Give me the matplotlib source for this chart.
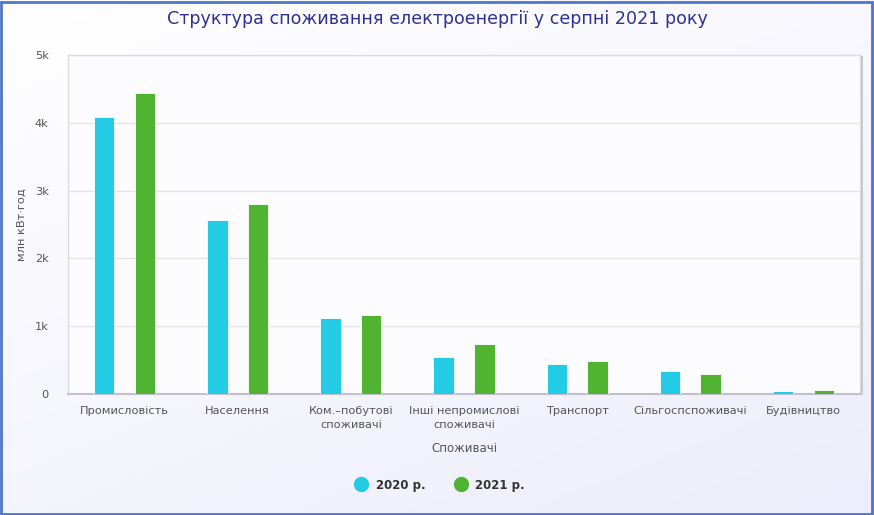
import numpy as np
import matplotlib.pyplot as plt
from matplotlib.ticker import FuncFormatter
from matplotlib.lines import Line2D
from matplotlib.patches import Rectangle

plt.rcParams['font.family'] = ['DejaVu Sans']

# Data (млн кВт·год)
categories = ['Промисловість', 'Населення', 'Ком.–побутові\nспоживачі',
              'Інші непромислові\nспоживачі', 'Транспорт', 'Сільгоспспоживачі',
              'Будівництво']
values_2020 = [4083, 2572, 1118, 550, 443, 334, 44]
values_2021 = [4433, 2798, 1163, 735, 490, 290, 64]
series_names = ['2020 р.', '2021 р.']
colors = ['#24CBE5', '#50B432']

W, H = 874, 515
fig = plt.figure(figsize=(W / 100, H / 100), dpi=100)

# background gradient
bg = fig.add_axes([0, 0, 1, 1], zorder=-10)
yy, xx = np.mgrid[0:1:100j, 0:1:100j]
t = np.clip(0.6 * yy + 0.4 * xx, 0, 1)
top = np.array([1.0, 1.0, 1.0])
bot = np.array([0.93, 0.93, 0.985])
img = top[None, None, :] * (1 - t[..., None]) + bot[None, None, :] * t[..., None]
bg.imshow(img[::-1], extent=[0, 1, 0, 1], aspect='auto', origin='lower')
bg.add_patch(Rectangle((0.001, 0.002), 0.997, 0.995, fill=False,
                       edgecolor='#4f76c8', lw=2, transform=bg.transAxes))
bg.set_axis_off()

left, right, bottom, top_ = 68, 860, 394, 55
ax = fig.add_axes([left / W, 1 - bottom / H, (right - left) / W, (bottom - top_) / H])
ax.set_facecolor('#fcfcff')

# shadow on the right of the plot area
sh = Rectangle((left / W + 0.003, 1 - bottom / H - 0.002), (right - left) / W, (bottom - top_) / H,
               transform=fig.transFigure, facecolor='#c8c8cc', edgecolor='none', zorder=-5)
fig.patches.append(sh)

x = np.arange(len(categories))
bw = 0.18
ax.bar(x - 0.18, values_2020, width=bw, color=colors[0], edgecolor='#ffffff',
       linewidth=0.6, zorder=3)
ax.bar(x + 0.18, values_2021, width=bw, color=colors[1], edgecolor='#ffffff',
       linewidth=0.6, zorder=3)

ax.set_xlim(-0.5, len(categories) - 0.5)
ax.set_ylim(0, 5000)
ax.set_yticks(range(0, 5001, 1000))
ax.yaxis.set_major_formatter(FuncFormatter(lambda v, p: '0' if v == 0 else f'{int(v / 1000)}k'))
ax.grid(axis='y', color='#e4e4e8', lw=1, zorder=0)
ax.set_xticks(x)
ax.set_xticklabels(categories, fontsize=8.2, color='#555555', linespacing=1.5)
ax.tick_params(axis='x', length=0, pad=9)
ax.tick_params(axis='y', length=0, pad=14, labelsize=8.2, labelcolor='#555555')
for s in ['top', 'right', 'left']:
    ax.spines[s].set_color('#dcdcdc')
    ax.spines[s].set_linewidth(1)
ax.spines['bottom'].set_color('#c0c0d0')
ax.spines['bottom'].set_linewidth(1.5)

ax.set_ylabel('млн кВт·год', fontsize=8.2, color='#555555')
ax.yaxis.set_label_coords((27 - left) / (right - left), 0.5)
ax.set_xlabel('Споживачі', fontsize=8.5, color='#555555', labelpad=8)

fig.text(0.5, 1 - 19 / H, 'Структура споживання електроенергії у серпні 2021 року',
         ha='center', va='center', fontsize=12.6, color='#2e3192')

handles = [Line2D([], [], marker='o', linestyle='none', markersize=10,
                  markerfacecolor=c, markeredgecolor=c) for c in colors]
leg = fig.legend(handles, series_names, loc='center', bbox_to_anchor=(0.5, 1 - 485 / H),
                 ncol=2, frameon=False, handletextpad=0.2, columnspacing=2.0,
                 prop={'size': 8.5, 'weight': 'bold'})
for txt in leg.get_texts():
    txt.set_color('#333333')

fig.savefig('out.png', dpi=100)
